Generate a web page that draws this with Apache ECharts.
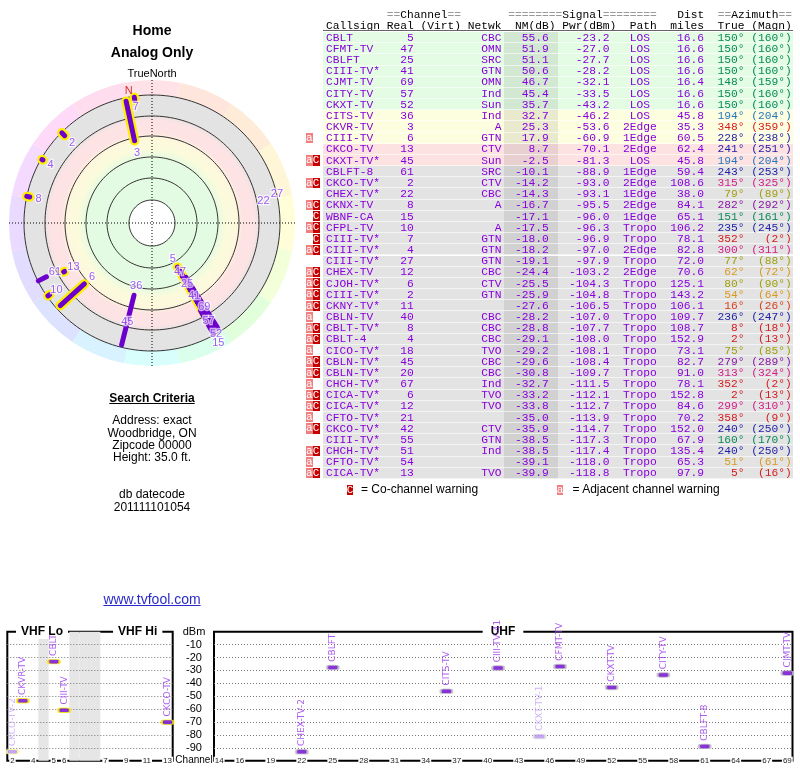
<!DOCTYPE html>
<html><head><meta charset="utf-8">
<script src="https://cdn.jsdelivr.net/npm/echarts@6/dist/echarts.min.js"></script>
<style>
html,body{margin:0;padding:0;background:#fff;width:800px;height:768px;overflow:hidden;}
#chart{position:absolute;left:0;top:0;width:800px;height:768px;}
.t{position:absolute;font-family:"Liberation Sans",Arial,sans-serif;color:#000;white-space:nowrap;transform:translateX(-50%);text-align:center;}
.mono{position:absolute;font-family:"Liberation Mono",monospace;font-size:11.25px;line-height:11.17px;white-space:pre;}
.row{position:absolute;left:323px;width:470px;height:11.17px;}
.row::after{content:'';position:absolute;left:0;right:0;bottom:0;height:1px;background:rgba(255,255,255,0.6);}
.row .txt{left:3px;top:0.7px;color:#8800dd;}
.g{background:#e4fce4;}.y{background:#fdfddf;}.p{background:#fde2e2;}.x{background:#e3e3e3;}
.nmshade{position:absolute;left:181px;width:53.7px;top:0;height:100%;background:rgba(0,0,0,0.08);}
.flag{position:absolute;width:6.75px;height:10.2px;color:#fff;font-family:"Liberation Mono",monospace;font-size:11px;line-height:10.2px;text-align:center;}
.fa{background:#f08080;}.fc{background:#c40000;}
.eq{color:#999;}
</style></head>
<body>
<div id="chart"></div>
<div id="overlay"></div>
<script>
// ---------- Station table ----------
var callsigns = ['CBLT','CFMT-TV','CBLFT','CIII-TV*','CJMT-TV','CITY-TV','CKXT-TV','CITS-TV','CKVR-TV','CIII-TV','CKCO-TV','CKXT-TV*','CBLFT-8','CKCO-TV*','CHEX-TV*','CKNX-TV','WBNF-CA','CFPL-TV','CIII-TV*','CIII-TV*','CIII-TV*','CHEX-TV','CJOH-TV*','CIII-TV*','CKNY-TV*','CBLN-TV','CBLT-TV*','CBLT-4','CICO-TV*','CBLN-TV*','CBLN-TV*','CHCH-TV*','CICA-TV*','CICA-TV*','CFTO-TV*','CKCO-TV*','CIII-TV*','CHCH-TV*','CFTO-TV*','CICA-TV*'];
var realCh = [5,47,25,41,69,57,52,36,3,6,13,45,61,2,22,8,15,10,7,4,27,12,6,2,11,40,8,4,18,45,20,67,6,12,21,42,55,51,54,13];
var netwk = ['CBC','OMN','SRC','GTN','OMN','Ind','Sun','Ind','A','GTN','CTV','Sun','SRC','CTV','CBC','A','','A','GTN','GTN','GTN','CBC','CTV','GTN','','CBC','CBC','CBC','TVO','CBC','CBC','Ind','TVO','TVO','','CTV','GTN','Ind','','TVO'];
var nmDb = [55.6,51.9,51.1,50.6,46.7,45.4,35.7,32.7,25.3,17.9,8.7,-2.5,-10.1,-14.2,-14.3,-16.7,-17.1,-17.5,-18.0,-18.2,-19.1,-24.4,-25.5,-25.9,-27.6,-28.2,-28.8,-29.1,-29.2,-29.6,-30.8,-32.7,-33.2,-33.8,-35.0,-35.9,-38.5,-38.5,-39.1,-39.9];
var pwrDbm = [-23.2,-27.0,-27.7,-28.2,-32.1,-33.5,-43.2,-46.2,-53.6,-60.9,-70.1,-81.3,-88.9,-93.0,-93.1,-95.5,-96.0,-96.3,-96.9,-97.0,-97.9,-103.2,-104.3,-104.8,-106.5,-107.0,-107.7,-108.0,-108.1,-108.4,-109.7,-111.5,-112.1,-112.7,-113.9,-114.7,-117.3,-117.4,-118.0,-118.8];
var pathType = ['LOS','LOS','LOS','LOS','LOS','LOS','LOS','LOS','2Edge','1Edge','2Edge','LOS','1Edge','2Edge','1Edge','2Edge','1Edge','Tropo','Tropo','2Edge','Tropo','2Edge','Tropo','Tropo','Tropo','Tropo','Tropo','Tropo','Tropo','Tropo','Tropo','Tropo','Tropo','Tropo','Tropo','Tropo','Tropo','Tropo','Tropo','Tropo'];
var distMi = [16.6,16.6,16.6,16.6,16.4,16.6,16.6,45.8,35.3,60.5,62.4,45.8,59.4,108.6,38.0,84.1,65.1,106.2,78.1,82.8,72.0,70.6,125.1,143.2,106.1,109.7,108.7,152.9,73.1,82.7,91.0,78.1,152.8,84.6,70.2,152.0,67.9,135.4,65.3,97.9];
var azTrue = [150,150,150,150,148,150,150,194,348,228,241,194,243,315,79,282,151,235,352,300,77,62,80,54,16,236,8,2,75,279,313,352,2,299,358,240,160,240,51,5];
var azMagn = [160,160,160,160,159,160,160,204,359,238,251,204,253,325,89,292,161,245,2,311,88,72,90,64,26,247,18,13,85,289,324,2,13,310,9,250,170,250,61,16];
var flags = ['','','','','','','','','','a','','aC','','aC','','aC','C','aC','C','aC','','aC','aC','aC','aC','a','aC','aC','a','aC','aC','a','aC','aC','a','aC','','aC','a','aC'];

// ---------- Radar plot (true azimuth, radial plot units) ----------
var polarCh  = ['5','47','25','41','69','57','52','36','3','6','13','45','61','2','22','8','15','10','7','4','27'];
var polarAz  = [150,150,150,150,148,150,150,194,348,228,241,194,243,315,79,282,151,235,352,300,77];
var markFrom = [51,56,57,58,64,66,80,74.5,84,91,100,null,118.5,123.5,null,125,100,125,124,126,null];
var markTo   = [114,120,120,120,124,122,124,125.5,124.5,123.5,101,null,127.5,127.5,null,128,126,127,127,127,null];
var labelR   = [41.7,56,70,84.7,98.6,113,128,65.3,72,80.7,89.8,102,108.9,113,113.5,116,136.7,116.7,117,117,128.2];
var ringRadii = [23,45,66,87,107,128];
var magNorthAz = 350, magNorthR = 134;

// ---------- Spectrum ----------
var vhfSlots = ['2','3','4','gap1','5','6','fm1','fm2','fm3','7','8','9','10','11','12','13'];
var vhfGapSlots = ['gap1','fm1','fm2','fm3'];
var vhfTickLabels = ['2','4','5','6','7','9','11','13'];
var uhfSlots = ['14','15','16','17','18','19','20','21','22','23','24','25','26','27','28','29','30','31','32','33','34','35','36','37','38','39','40','41','42','43','44','45','46','47','48','49','50','51','52','53','54','55','56','57','58','59','60','61','62','63','64','65','66','67','68','69'];
var uhfTickLabels = ['14','16','19','22','25','28','31','34','37','40','43','46','49','52','55','58','61','64','67','69'];
var vhfNames = ['CKCO-TV-2','CKVR-TV','CBLT','CIII-TV','CKCO-TV'];
var vhfCh = ['2','3','5','6','13'];
var vhfDbm = [-93.0,-53.6,-23.2,-60.9,-70.1];
var vhfWeak = [true,false,false,false,false];
var uhfNames = ['CHEX-TV-2','CBLFT','CITS-TV','CIII-TV-41','CKXT-TV-1','CFMT-TV','CKXT-TV','CITY-TV','CBLFT-8','CJMT-TV'];
var uhfCh = ['22','25','36','41','45','47','52','57','61','69'];
var uhfDbm = [-93.1,-27.7,-46.2,-28.2,-81.3,-27.0,-43.2,-33.5,-88.9,-32.1];
var uhfWeak = [false,false,false,false,true,false,false,false,false,false];
var dbmTicks = [-100,-90,-80,-70,-60,-50,-40,-30,-20,-10,0];

(function(){
// ---------- overlay text / table ----------
function azColor(a){
  if (a>=345 || a<12) return '#d61c1c';
  if (a<30) return '#d8401c';
  if (a<70) return '#d89a20';
  if (a<100) return '#a0a012';
  if (a<175) return '#0a8a5a';
  if (a<215) return '#2878bc';
  if (a<262) return '#1e1ea8';
  if (a<296) return '#8a18a8';
  return '#d42088';
}
function eqGrey(s){ return s.replace(/(=+)/g,'<span class="eq">$1</span>'); }
var rowH = 11.17, row0 = 32.1;
var h = '';
h += '<div class="t" style="left:152px;top:22.5px;font-size:14px;line-height:14px;font-weight:bold;">Home</div>';
h += '<div class="t" style="left:152px;top:44.9px;font-size:14px;line-height:14px;font-weight:bold;">Analog Only</div>';
h += '<div class="t" style="left:152px;top:67.9px;font-size:11px;line-height:11px;">TrueNorth</div>';
h += '<div class="t" style="left:152px;top:392.4px;font-size:12px;line-height:12px;font-weight:bold;text-decoration:underline;">Search Criteria</div>';
var crit = ['Address: exact','Woodbridge, ON','Zipcode 00000','Height: 35.0 ft.'];
var critY = [414.1,426.8,439.1,451.4];
for (var k=0;k<crit.length;k++) h += '<div class="t" style="left:152px;top:'+critY[k]+'px;font-size:12px;line-height:12px;">'+crit[k]+'</div>';
h += '<div class="t" style="left:152px;top:488.1px;font-size:12px;line-height:12px;">db datecode</div>';
h += '<div class="t" style="left:152px;top:500.8px;font-size:12px;line-height:12px;">201111101054</div>';
h += '<div class="t" style="left:152px;top:591.5px;font-size:14px;line-height:14px;color:#2a2acc;text-decoration:underline;">www.tvfool.com</div>';
var hdr1 = '         ==Channel==       ========Signal========   Dist  ==Azimuth==';
var hdr2 = 'Callsign Real (Virt) Netwk  NM(dB) Pwr(dBm)  Path  miles  True (Magn)';
h += '<div class="mono" style="left:326px;top:10.1px;color:#000;">'+eqGrey(hdr1)+'</div>';
h += '<div class="mono" style="left:326px;top:20.8px;color:#000;">'+hdr2+'</div>';
h += '<div style="position:absolute;left:323px;top:30.2px;width:470px;height:1px;background:#666;"></div>';
for (var i=0;i<callsigns.length;i++){
  var rowTop = row0 + i*rowH;
  var v = nmDb[i];
  var band = v>=35 ? 'g' : (v>=15 ? 'y' : (v>=-5 ? 'p' : 'x'));
  var ps = pathType[i].length===3 ? ' '+pathType[i]+' ' : pathType[i];
  var line = callsigns[i].padEnd(8)+' '+String(realCh[i]).padStart(4)+' '+'      '+' '+netwk[i].padStart(5)+
             nmDb[i].toFixed(1).padStart(7)+' '+pwrDbm[i].toFixed(1).padStart(8)+'  '+ps+distMi[i].toFixed(1).padStart(7)+'  ';
  var az = (azTrue[i]+'\u00b0').padStart(4)+' '+('('+azMagn[i]+'\u00b0)').padStart(6);
  h += '<div class="row '+band+'" style="top:'+rowTop.toFixed(2)+'px"><div class="nmshade"></div><div class="mono txt">'+line+
       '<span style="color:'+azColor(azTrue[i])+'">'+az+'</span></div></div>';
  if (flags[i].indexOf('a')>=0) h += '<div class="flag fa" style="left:306px;top:'+(rowTop+0.4).toFixed(2)+'px">a</div>';
  if (flags[i].indexOf('C')>=0) h += '<div class="flag fc" style="left:312.75px;top:'+(rowTop+0.4).toFixed(2)+'px">C</div>';
}
h += '<div class="flag fc" style="left:346.7px;top:484.6px;">C</div>';
h += '<div style="position:absolute;left:361px;top:483.4px;font-family:\'Liberation Sans\',Arial;font-size:12px;line-height:12px;white-space:nowrap;">= Co-channel warning</div>';
h += '<div class="flag fa" style="left:556.7px;top:484.6px;">a</div>';
h += '<div style="position:absolute;left:572.5px;top:483.4px;font-family:\'Liberation Sans\',Arial;font-size:12px;line-height:12px;white-space:nowrap;">= Adjacent channel warning</div>';
document.getElementById('overlay').innerHTML = h;

// ---------- ECharts ----------
var chart = echarts.init(document.getElementById('chart'));
var CX = 152, CY = 223;
var bandGradient = new echarts.graphic.RadialGradient(CX, CY, 128, [
  {offset:0, color:'#e2fbe2'}, {offset:0.5, color:'#e2fbe2'},
  {offset:0.58, color:'#fbfbdc'}, {offset:0.66, color:'#fdf8dc'},
  {offset:0.71, color:'#fde3e3'}, {offset:0.8, color:'#fde3e3'},
  {offset:0.85, color:'#e3e3e3'}, {offset:1, color:'#e3e3e3'}
], true);
var wheelColors = ['#ffe2e8','#ffe6dc','#ffecd8','#fff6d8','#fffed8','#f2ffd8','#e2ffdc','#daffea',
                   '#d8fffc','#d8f2ff','#dce2ff','#e2dcff','#eadaff','#f4daff','#fedaf8','#ffdcee'];
var series = [];
series.push({type:'pie', center:[CX,CY], radius:[23,128], silent:true, z:1, selectedMode:false,
  label:{show:false}, labelLine:{show:false}, emphasis:{disabled:true}, itemStyle:{borderWidth:0},
  data:[{value:1, itemStyle:{color:bandGradient}}]});
series.push({type:'pie', center:[CX,CY], radius:[128,143], startAngle:101.25, silent:true, z:1, selectedMode:false,
  label:{show:false}, labelLine:{show:false}, emphasis:{disabled:true}, itemStyle:{borderWidth:0},
  data:wheelColors.map(function(c){return {value:1, itemStyle:{color:c}};})});
ringRadii.forEach(function(r){
  var pts = [];
  for (var a=0;a<=360;a+=2) pts.push([r,a]);
  series.push({type:'line', coordinateSystem:'polar', polarIndex:0, data:pts, symbol:'none', silent:true, z:2,
    lineStyle:{color:'#333', width:1}});
});
var haloData = [], lineData = [];
for (var j=0;j<polarCh.length;j++){
  if (markFrom[j]===null) continue;
  var d = [markFrom[j], markTo[j], polarAz[j]];
  lineData.push(d);
  if (Number(polarCh[j])<=13) haloData.push(d);
}
function radialRender(color, width){
  return function(params, api){
    var a = api.value(2);
    var p1 = api.coord([api.value(0), a]);
    var p2 = api.coord([api.value(1), a]);
    return {type:'line', shape:{x1:p1[0],y1:p1[1],x2:p2[0],y2:p2[1]},
            style:{stroke:color, lineWidth:width, lineCap:'round'}};
  };
}
series.push({type:'custom', coordinateSystem:'polar', polarIndex:0, z:4, silent:true, data:haloData,
  encode:{radius:[0,1], angle:2}, renderItem:radialRender('#ffee00', 9.5)});
series.push({type:'custom', coordinateSystem:'polar', polarIndex:0, z:5, silent:true, data:lineData,
  encode:{radius:[0,1], angle:2}, renderItem:radialRender('#6c00cc', 5)});
series.push({type:'scatter', coordinateSystem:'polar', polarIndex:0, z:6, silent:true, symbol:'circle', symbolSize:1,
  itemStyle:{color:'rgba(0,0,0,0)'},
  data:polarCh.map(function(c,i){return {name:c, value:[labelR[i], polarAz[i]]};}),
  label:{show:true, position:'inside', formatter:'{b}', color:'#8833ee', fontSize:11, fontFamily:'Liberation Sans',
    textBorderColor:'rgba(255,255,255,0.85)', textBorderWidth:2.5}});
series.push({type:'scatter', coordinateSystem:'polar', polarIndex:0, z:6, silent:true, symbol:'circle', symbolSize:1,
  itemStyle:{color:'rgba(0,0,0,0)'}, data:[{name:'N', value:[magNorthR, magNorthAz]}],
  label:{show:true, position:'inside', formatter:'{b}', color:'#cc0000', fontSize:11, fontFamily:'Liberation Sans'}});

// spectrum
series.push({type:'bar', xAxisIndex:0, yAxisIndex:0, silent:true, z:1, barWidth:'100%',
  data:vhfSlots.map(function(s){return vhfGapSlots.indexOf(s)>=0 ? -100 : '-';}),
  itemStyle:{color:'#e6e6e6'}});
function specSeries(names, chs, dbm, weak, ax, vhf){
  return {type:'scatter', xAxisIndex:ax, yAxisIndex:ax, z:5, silent:true, symbol:'roundRect', symbolSize:[11.5,4.5],
    data:names.map(function(n,i){
      return {name:n, value:[chs[i], dbm[i]],
        itemStyle:{color: weak[i] ? '#b890f0' : '#6a00cc',
                   borderColor: vhf ? (weak[i] ? '#ffff99' : '#ffee00') : (weak[i] ? '#dddddd' : '#c4c4c4'),
                   borderWidth:1.5},
        label:{color: weak[i] ? '#c6a2f4' : '#9933ee'}};
    }),
    label:{show:true, formatter:'{b}', position:'top', distance:3, rotate:90, align:'left', verticalAlign:'middle',
      fontSize:9, fontFamily:'DejaVu Sans'}};
}
series.push(specSeries(vhfNames, vhfCh, vhfDbm, vhfWeak, 0, true));
series.push(specSeries(uhfNames, uhfCh, uhfDbm, uhfWeak, 1, false));

function xAx(idx, slots, ticks){
  return {gridIndex:idx, type:'category', data:slots, boundaryGap:true, z:4,
    axisLine:{show:false}, axisTick:{show:false}, splitLine:{show:false},
    axisLabel:{interval:function(i,v){return ticks.indexOf(v)>=0;}, margin:-4, fontSize:8, color:'#222',
      fontFamily:'Liberation Sans', backgroundColor:'#fff', padding:[0,1], lineHeight:8}};
}
function yAx(idx, labels){
  return {gridIndex:idx, type:'value', min:dbmTicks[0], max:dbmTicks[dbmTicks.length-1], interval:10, z:3,
    axisLine:{show:false}, axisTick:{show:false},
    splitLine:{show:true, showMinLine:false, showMaxLine:false, lineStyle:{color:'#777', type:[1,2], width:1}},
    axisLabel: labels ? {show:true, margin:20, align:'center', fontSize:11, color:'#000', fontFamily:'Liberation Sans',
      rich:{ch:{fontSize:10, fontFamily:'Liberation Sans', color:'#000'}},
      formatter:function(v){ if (v===0) return 'dBm'; if (v===-100) return '{ch|Channel}'; return String(v); }} : {show:false}};
}

var option = {
  animation:false,
  polar:{center:[CX,CY], radius:143},
  angleAxis:{type:'value', min:0, max:360, startAngle:90, clockwise:true, interval:90, z:3,
    axisLine:{show:false}, axisTick:{show:false}, axisLabel:{show:false}, splitArea:{show:false},
    splitLine:{show:true, lineStyle:{color:'#000', type:[1,2], width:1}}},
  radiusAxis:{type:'value', min:0, max:143, axisLine:{show:false}, axisTick:{show:false},
    axisLabel:{show:false}, splitLine:{show:false}, splitArea:{show:false}},
  grid:[
    {left:7.3, top:631.7, width:165.4, height:129, show:true, borderColor:'#000', borderWidth:2, backgroundColor:'transparent'},
    {left:214, top:631.7, width:578.5, height:129, show:true, borderColor:'#000', borderWidth:2, backgroundColor:'transparent'}
  ],
  xAxis:[xAx(0, vhfSlots, vhfTickLabels), xAx(1, uhfSlots, uhfTickLabels)],
  yAxis:[yAx(0, false), yAx(1, true)],
  graphic:[
    {type:'text', x:42, y:632, z:3, style:{text:'VHF Lo', align:'center', verticalAlign:'middle', font:'bold 12px "Liberation Sans"', fill:'#000', backgroundColor:'#fff', padding:[1,5]}},
    {type:'text', x:137.7, y:632, z:3, style:{text:'VHF Hi', align:'center', verticalAlign:'middle', font:'bold 12px "Liberation Sans"', fill:'#000', backgroundColor:'#fff', padding:[1,5]}},
    {type:'text', x:503, y:632, z:3, style:{text:'UHF', align:'center', verticalAlign:'middle', font:'bold 12px "Liberation Sans"', fill:'#000', backgroundColor:'#fff', padding:[1,8]}}
  ],
  series:series
};
chart.setOption(option);
})();
</script>
</body></html>
